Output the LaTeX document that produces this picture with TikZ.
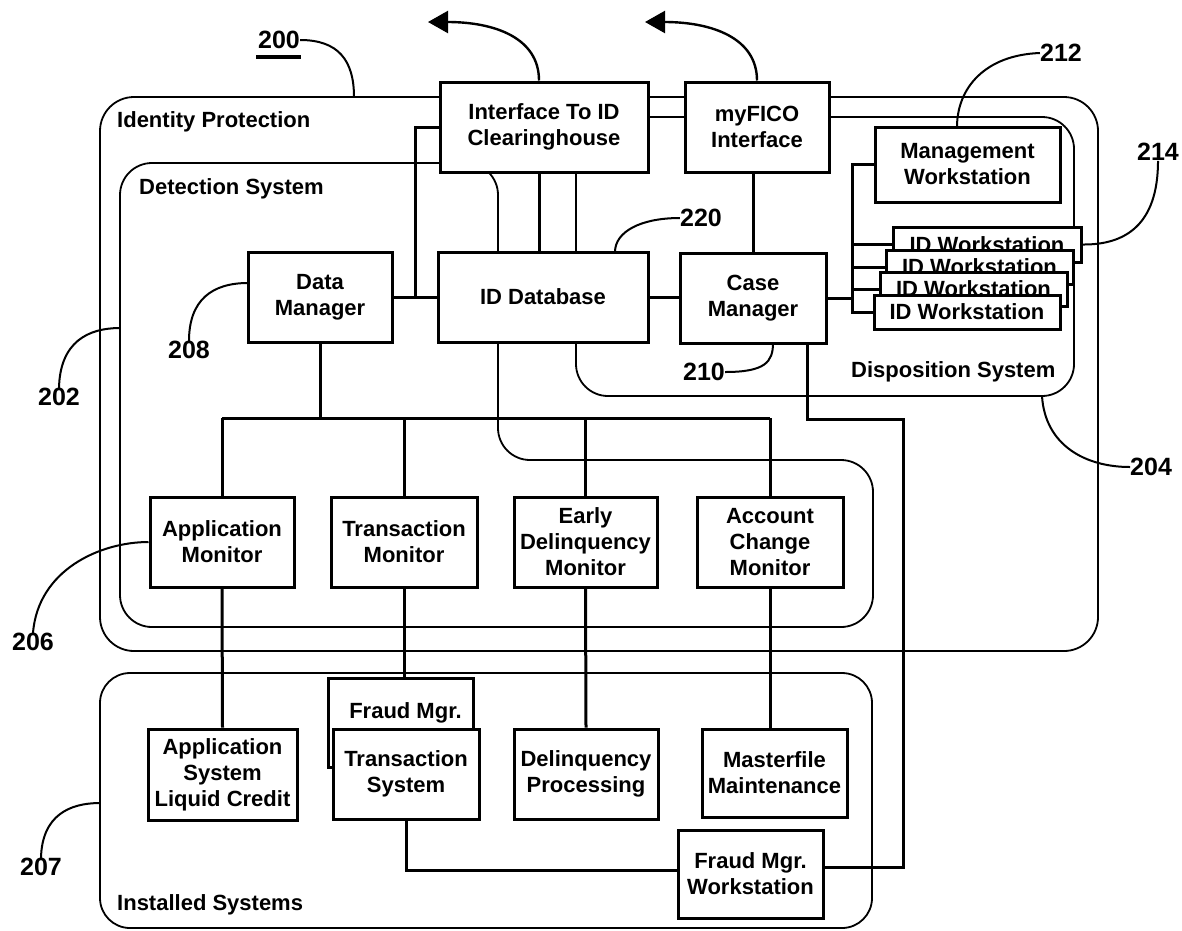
\documentclass[tikz,border=0pt]{standalone}
\usepackage{fontspec}
\setmainfont{Liberation Sans}
\usetikzlibrary{arrows.meta,calc}
\newcommand\bxfont{\fontsize{22}{26}\selectfont\bfseries}
\newcommand\nmfont{\fontsize{25}{28}\selectfont\bfseries}
\begin{document}
\begin{tikzpicture}[x=1pt,y=-1pt,
  box/.style={draw,line width=3pt,fill=white,inner sep=0pt,align=center,font=\bxfont},
  bnd/.style={line width=1.8pt},
  wire/.style={line width=3pt},
  lead/.style={line width=2pt},
  region/.style={font=\bxfont,anchor=west,inner sep=0pt},
  num/.style={font=\nmfont,inner sep=0pt},
  outarrow/.style={line width=2.4pt,-{Triangle[length=20pt,width=22pt]}}]
\useasboundingbox (0,0) rectangle (1182,930);

% ---- system boundaries ----
\draw[bnd,rounded corners=34pt] (100,97) rectangle (1098,651);          % identity protection
\draw[bnd,rounded corners=32pt] (576,117) rectangle (1074,396);         % disposition system
\draw[bnd,rounded corners=32pt] (300,163) -- (498,163) -- (498,460) -- (873,460)
      -- (873,627) -- (120,627) -- (120,163) -- cycle;                 % detection system
\draw[bnd,rounded corners=30pt] (100,673) rectangle (872,928);          % installed systems

\node[region] (lip) at (117,122) {Identity Protection};
\node[region] (lds) at (139,189) {Detection System};
\node[region] (ldp) at (851,372) {Disposition System};
\node[region] (lis) at (117,905) {Installed Systems};

% ---- boxes ----
\node[box,minimum width=208pt,minimum height=90pt] (iface) at (544,127) {Interface To ID\\Clearinghouse};
\node[box,minimum width=144pt,minimum height=90pt] (fico) at (757,127) {myFICO\\Interface};
\node[box,minimum width=185pt,minimum height=75pt] (mgmt) at (967.5,164.5) {Management\\Workstation};

\node[box,minimum width=144pt,minimum height=90pt] (dm) at (320,297) {Data\\Manager};
\node[box,minimum width=210pt,minimum height=90pt] (iddb) at (543,297) {ID Database};
\node[box,minimum width=146pt,minimum height=90pt] (cm) at (753,298) {Case\\Manager};

\node[box,minimum width=144pt,minimum height=90pt] (appmon) at (222,542) {Application\\Monitor};
\node[box,minimum width=146pt,minimum height=90pt] (trmon) at (404,542) {Transaction\\Monitor};
\node[box,minimum width=143pt,minimum height=90pt] (edmon) at (585.5,542) {Early\\Delinquency\\Monitor};
\node[box,minimum width=146pt,minimum height=90pt] (acmon) at (770,542) {Account\\Change\\Monitor};

% ---- connectors ----
\coordinate (j1) at ($(dm.east)!0.5!(iddb.west)$);
\draw[wire] (dm.east) -- (iddb.west);
\draw[wire] (j1) |- (iface.west);
\draw[wire] ([xshift=-5pt]iface.south) -- ([xshift=-5pt]iface.south |- iddb.north);
\draw[wire] (iddb.east) -- (iddb.east -| cm.west);
\draw[wire] (cm.north) -- (cm.north |- fico.south);

\coordinate (wsx) at (852,298);
\draw[wire] (cm.east) -- (wsx);
\coordinate (bus) at (322,418);
\draw[wire] (dm.south) -- (dm.south |- bus);
\draw[wire] (appmon.north |- bus) -- (acmon.north |- bus);
\foreach \m in {appmon,trmon,edmon,acmon}
  \draw[wire] (\m.north |- bus) -- (\m.north);

% ---- installed systems ----
\node[box,minimum width=149pt,minimum height=91pt] (appsys) at (222.5,774.5) {Application\\System\\Liquid Credit};
\node[box,minimum width=145pt,minimum height=89pt,text height=16pt,text depth=25pt] (fraudb) at (400.5,722.5) {\hspace*{10pt}Fraud Mgr.};
\node[box,minimum width=146pt,minimum height=90pt] (trsys) at (406,774) {Transaction\\System};
\node[box,minimum width=144pt,minimum height=90pt] (delinq) at (586,774) {Delinquency\\Processing};
\node[box,minimum width=145pt,minimum height=88pt] (master) at (774.5,773) {Masterfile\\Maintenance};
\node[box,minimum width=145pt,minimum height=88pt] (fmw) at (750.5,874) {Fraud Mgr.\\Workstation};

\draw[wire] (appmon.south) -- (appsys.north);
\draw[wire] (trmon.south) -- (trmon.south |- fraudb.north);
\draw[wire] (edmon.south) -- (delinq.north);
\draw[wire] (acmon.south) -- (acmon.south |- master.north);
\draw[wire] (trsys.south) |- ([yshift=4pt]fmw.west);
\coordinate (fx) at (903,419);
\draw[wire] ([xshift=-20pt]cm.south east) |- (fx) |- ([yshift=7pt]fmw.east);

% ---- workstation stack ----
\node[box,minimum width=188pt,minimum height=35pt] (ws1) at (987,244.5) {ID Workstation};
\node[box,minimum width=187pt,minimum height=34pt] (ws2) at (979.5,267) {ID Workstation};
\node[box,minimum width=187pt,minimum height=34pt] (ws3) at (973.5,289) {ID Workstation};
\node[box,minimum width=186pt,minimum height=34pt] (ws4) at (967,312) {ID Workstation};
\draw[wire] (mgmt.west) -- (mgmt.west -| wsx) -- (ws4.west -| wsx) -- (ws4.west);
\foreach \w in {ws1,ws2,ws3}
  \draw[wire] (\w.west -| wsx) -- (\w.west);

% ---- external links ----
\coordinate (ext1) at (428,22);
\coordinate (ext2) at (645,22);
\draw[outarrow] ([xshift=-5pt]iface.north) .. controls (539,38) and (495,22) .. (ext1);
\draw[outarrow] (fico.north) .. controls (757,38) and (712,22) .. (ext2);

% ---- reference numerals ----
\node[num] (n200) at (279,40) {200};
\draw[line width=4pt] (256,57) -- (301,57);
\coordinate (e200) at (354,97);
\draw[lead] (n200.east) .. controls (338,40) and (354,60) .. (e200);

\node[num] (n212) at (1061,53) {212};
\coordinate (e212) at (957,127);
\draw[lead] (n212.west) .. controls (985,55) and (957,88) .. (e212);

\node[num] (n214) at (1158,152) {214};
\draw[lead] (n214.south) .. controls (1158,225) and (1125,245) .. (ws1.east);

\node[num] (n220) at (701,218) {220};
\coordinate (e220) at (615,252);
\draw[lead] (n220.west) .. controls (640,218) and (615,232) .. (e220);

\node[num] (n210) at (704,372) {210};
\coordinate (e210) at (773,343);
\draw[lead] (n210.east) .. controls (765,372) and (773,362) .. (e210);

\node[num] (n208) at (189,350) {208};
\coordinate (e208) at (248,283);
\draw[lead] (n208.north) .. controls (189,300) and (212,283) .. (e208);

\node[num] (n202) at (59,397) {202};
\coordinate (e202) at (120,328);
\draw[lead] (n202.north) .. controls (60,342) and (88,328) .. (e202);

\node[num] (n206) at (33,642) {206};
\draw[lead] (n206.north) .. controls (38,570) and (100,542) .. (appmon.west);

\node[num] (n207) at (41,867) {207};
\coordinate (e207) at (100,803);
\draw[lead] (n207.north) .. controls (42,815) and (70,803) .. (e207);

\node[num,anchor=west] (n204) at (1130,467) {204};
\coordinate (s204) at (1042,396);
\draw[lead] (s204) .. controls (1045,445) and (1085,467) .. (n204.west);
\end{tikzpicture}
\end{document}
